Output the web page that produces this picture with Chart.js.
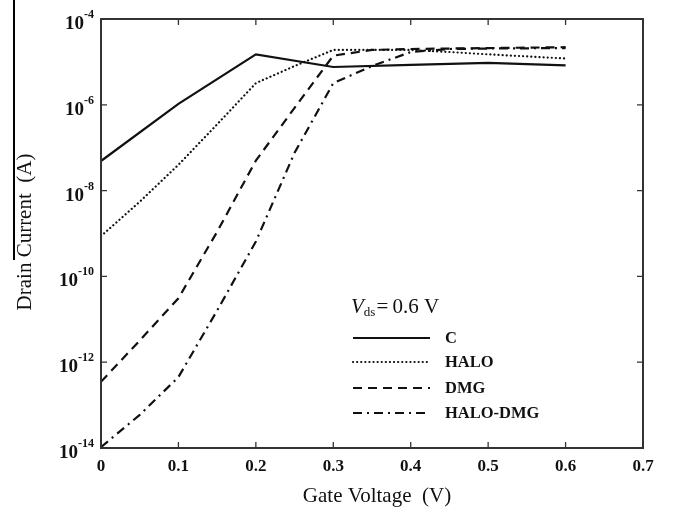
<!DOCTYPE html>
<html>
<head>
<meta charset="utf-8">
<script src="https://cdn.jsdelivr.net/npm/chart.js@4/dist/chart.umd.min.js"></script>
<style>
	html, body { margin: 0; padding: 0; background: #fff; }
	#wrap { width: 676px; height: 511px; }
</style>
</head>
<body>
<div id="wrap"><canvas id="chart" width="676" height="511"></canvas></div>
<script>
// gate voltage (V) and drain current (A)
var cVgs = [0, 0.1, 0.2, 0.3, 0.4, 0.5, 0.6];
var cIds = [4.9e-8, 1.05e-6, 1.5e-5, 7.6e-6, 8.5e-6, 9.5e-6, 8.3e-6];

var haloVgs = [0, 0.05, 0.1, 0.15, 0.2, 0.25, 0.3, 0.4, 0.45, 0.5, 0.6];
var haloIds = [8.7e-10, 5.5e-9, 4e-8, 3.5e-7, 3.2e-6, 8e-6, 1.9e-5, 1.9e-5, 1.7e-5, 1.5e-5, 1.2e-5];

var dmgVgs = [0, 0.05, 0.1, 0.15, 0.2, 0.25, 0.3, 0.35, 0.4, 0.5, 0.6];
var dmgIds = [3.5e-13, 3.2e-12, 3.1e-11, 1.1e-9, 5e-8, 8.5e-7, 1.4e-5, 1.9e-5, 2e-5, 2.1e-5, 2.2e-5];

var haloDmgVgs = [0, 0.05, 0.1, 0.15, 0.2, 0.25, 0.3, 0.35, 0.4, 0.45, 0.5, 0.6];
var haloDmgIds = [1.05e-14, 5.9e-14, 4.5e-13, 1.6e-11, 6.5e-10, 7.6e-8, 3.2e-6, 8e-6, 1.7e-5, 2e-5, 2.05e-5, 2.1e-5];

var xTicks = [0, 0.1, 0.2, 0.3, 0.4, 0.5, 0.6, 0.7];
var xTickLabels = ['0', '0.1', '0.2', '0.3', '0.4', '0.5', '0.6', '0.7'];
var yExponents = [-4, -6, -8, -10, -12, -14];

var seriesNames = ['C', 'HALO', 'DMG', 'HALO-DMG'];

var SERIF = '"Liberation Serif", "DejaVu Serif", serif';
var INK = '#111';

function pts(xs, ys) {
	var out = [];
	for (var i = 0; i < xs.length; i++) out.push({x: xs[i], y: ys[i]});
	return out;
}

var styles = [
	{ borderWidth: 2.2, borderDash: [], borderCapStyle: 'butt' },
	{ borderWidth: 2.2, borderDash: [0.1, 4], borderCapStyle: 'round' },
	{ borderWidth: 2.2, borderDash: [9, 6], borderCapStyle: 'butt' },
	{ borderWidth: 2.2, borderDash: [9, 5, 2, 5], borderCapStyle: 'butt' }
];

var allData = [pts(cVgs, cIds), pts(haloVgs, haloIds), pts(dmgVgs, dmgIds), pts(haloDmgVgs, haloDmgIds)];

var datasets = [];
for (var i = 0; i < seriesNames.length; i++) {
	datasets.push({
		label: seriesNames[i],
		data: allData[i],
		borderColor: INK,
		backgroundColor: INK,
		borderWidth: styles[i].borderWidth,
		borderDash: styles[i].borderDash,
		borderCapStyle: styles[i].borderCapStyle,
		pointRadius: 0,
		tension: 0,
		fill: false
	});
}

// frame, inward ticks, tick labels, titles and legend
var decor = {
	id: 'decor',
	afterDraw: function (chart) {
		var ctx = chart.ctx, a = chart.chartArea;
		var xs = chart.scales.x, ys = chart.scales.y;
		ctx.save();

		// stray rule at the left edge of the scan
		ctx.strokeStyle = '#000';
		ctx.lineWidth = 2;
		ctx.beginPath(); ctx.moveTo(14, 0); ctx.lineTo(14, 260); ctx.stroke();

		// box
		ctx.strokeStyle = '#333';
		ctx.lineWidth = 2;
		ctx.strokeRect(a.left, a.top, a.right - a.left, a.bottom - a.top);

		// x ticks
		ctx.lineWidth = 1.3;
		ctx.fillStyle = INK;
		ctx.font = 'bold 17px ' + SERIF;
		ctx.textAlign = 'center';
		ctx.textBaseline = 'middle';
		for (var i = 0; i < xTicks.length; i++) {
			var px = xs.getPixelForValue(xTicks[i]);
			ctx.beginPath();
			ctx.moveTo(px, a.bottom); ctx.lineTo(px, a.bottom - 6);
			ctx.moveTo(px, a.top); ctx.lineTo(px, a.top + 6);
			ctx.stroke();
			ctx.fillText(xTickLabels[i], px, a.bottom + 19);
		}

		// y ticks with superscript exponents
		for (var j = 0; j < yExponents.length; j++) {
			var py = ys.getPixelForValue(Math.pow(10, yExponents[j]));
			ctx.beginPath();
			ctx.moveTo(a.left, py); ctx.lineTo(a.left + 6, py);
			ctx.moveTo(a.right, py); ctx.lineTo(a.right - 6, py);
			ctx.stroke();
			var sup = '-' + Math.abs(yExponents[j]);
			ctx.font = 'bold 12px ' + SERIF;
			var supW = ctx.measureText(sup).width;
			ctx.textAlign = 'left';
			ctx.textBaseline = 'alphabetic';
			var right = a.left - 7;
			ctx.fillText(sup, right - supW, py - 1);
			ctx.font = 'bold 19px ' + SERIF;
			ctx.textAlign = 'right';
			ctx.fillText('10', right - supW, py + 10);
		}

		// axis titles
		ctx.font = '21px ' + SERIF;
		ctx.textAlign = 'center';
		ctx.textBaseline = 'middle';
		ctx.fillText('Gate Voltage  (V)', (a.left + a.right) / 2 + 5, 496);
		ctx.save();
		ctx.translate(25, 232);
		ctx.rotate(-Math.PI / 2);
		ctx.fillText('Drain Current  (A)', 0, 0);
		ctx.restore();

		// legend title: V_ds = 0.6 V
		ctx.textAlign = 'left';
		ctx.textBaseline = 'alphabetic';
		var tx = 351, ty = 313;
		ctx.font = 'italic 21px ' + SERIF;
		ctx.fillText('V', tx, ty);
		tx += ctx.measureText('V').width;
		ctx.font = '13px ' + SERIF;
		ctx.fillText('ds', tx, ty + 3);
		tx += ctx.measureText('ds').width + 1;
		ctx.font = '21px ' + SERIF;
		ctx.fillText('=\u20090.6 V', tx, ty);

		// legend rows, styled from the datasets
		var rowY = [338, 362, 388, 413];
		for (var k = 0; k < chart.data.datasets.length; k++) {
			var ds = chart.data.datasets[k];
			ctx.strokeStyle = ds.borderColor;
			ctx.lineWidth = ds.borderWidth;
			ctx.setLineDash(ds.borderDash);
			ctx.lineCap = ds.borderCapStyle;
			ctx.beginPath();
			ctx.moveTo(353, rowY[k]); ctx.lineTo(430, rowY[k]);
			ctx.stroke();
			ctx.setLineDash([]);
			ctx.lineCap = 'butt';
			ctx.font = 'bold 16.5px ' + SERIF;
			ctx.textBaseline = 'middle';
			ctx.fillText(ds.label, 445, rowY[k] + 1);
		}

		ctx.restore();
	}
};

new Chart(document.getElementById('chart'), {
	type: 'line',
	data: { datasets: datasets },
	options: {
		responsive: false,
		animation: false,
		layout: { padding: { left: 93, right: 33, top: 19, bottom: 55 } },
		plugins: { legend: { display: false }, tooltip: { enabled: false } },
		scales: {
			x: {
				type: 'linear', min: 0, max: 0.7,
				ticks: { display: false },
				grid: { display: false },
				border: { display: false }
			},
			y: {
				type: 'logarithmic', min: 1e-14, max: 1e-4,
				ticks: { display: false },
				grid: { display: false },
				border: { display: false }
			}
		}
	},
	plugins: [decor]
});
</script>
</body>
</html>
